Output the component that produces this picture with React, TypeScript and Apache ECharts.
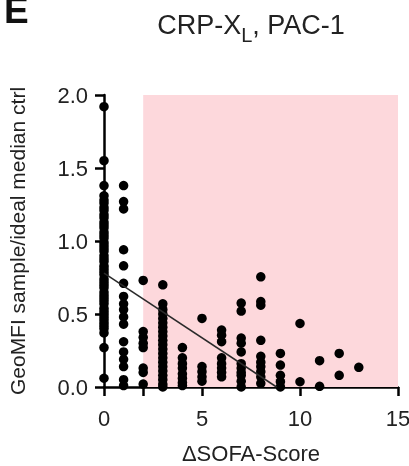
import React, { useEffect, useRef } from "react";
import * as echarts from "echarts";

// ΔSOFA-Score columns (x) and GeoMFI ratio values (y)
const col0 = [1.92, 1.55, 1.38, 1.31, 1.28, 1.26, 1.23, 1.21, 1.18, 1.16, 1.13, 1.11, 1.09, 1.06, 1.04, 1.02, 0.99, 0.97, 0.95, 0.93, 0.9, 0.88, 0.86, 0.83, 0.81, 0.79, 0.77, 0.74, 0.72, 0.7, 0.68, 0.65, 0.63, 0.61, 0.59, 0.57, 0.54, 0.52, 0.5, 0.48, 0.46, 0.44, 0.42, 0.4, 0.37, 0.27, 0.06];
const col1 = [1.38, 1.27, 1.22, 0.94, 0.83, 0.71, 0.62, 0.57, 0.53, 0.48, 0.43, 0.31, 0.24, 0.19, 0.14, 0.05, 0.01];
const col2 = [0.73, 0.38, 0.34, 0.3, 0.27, 0.13, 0.1, 0.02];
const col3 = [0.7, 0.57, 0.53, 0.5, 0.47, 0.44, 0.41, 0.38, 0.35, 0.32, 0.29, 0.26, 0.23, 0.2, 0.17, 0.14, 0.11, 0.08, 0.05, 0.02, 0.0];
const col4 = [0.27, 0.2, 0.16, 0.13, 0.09, 0.06, 0.03, 0.01];
const col5 = [0.47, 0.14, 0.105, 0.07, 0.04];
const col6 = [0.39, 0.355, 0.31, 0.2, 0.16, 0.13, 0.1, 0.07];
const col7 = [0.575, 0.52, 0.335, 0.3, 0.24, 0.16, 0.13, 0.1, 0.08, 0.04, 0.0];
const col8 = [0.755, 0.585, 0.56, 0.32, 0.21, 0.17, 0.14, 0.105, 0.07, 0.025];
const col9 = [0.23, 0.15, 0.08, 0.036, 0.0];
const col10 = [0.435, 0.036];
const col11 = [0.18, 0.005];
const col12 = [0.23, 0.08];
const col13 = [0.135];
const columns: number[][] = [col0, col1, col2, col3, col4, col5, col6, col7, col8, col9, col10, col11, col12, col13];

// linear regression
const regIntercept = 0.78;
const regSlope = -0.0886;

const xTicks = [0, 2, 5, 10, 15];
const xLabels = [0, 5, 10, 15];
const shadedFrom = 2;
const shadedTo = 15;

const FONT = "Liberation Sans, Arial, sans-serif";

export default function App() {
  const ref = useRef<HTMLDivElement>(null);
  useEffect(() => {
    if (!ref.current) return;
    const chart = echarts.init(ref.current, undefined, { renderer: "svg" });
    const points: number[][] = [];
    columns.forEach((ys, x) => ys.forEach((y) => points.push([x, y])));
    const xEnd = -regIntercept / regSlope;
    chart.setOption({
      animation: false,
      textStyle: { fontFamily: FONT },
      grid: { left: 104, right: 11, top: 95, bottom: 79, outerBoundsMode: "none", containLabel: false },
      graphic: [
        {
          type: "text",
          left: 4,
          top: -8,
          style: { text: "E", fontSize: 37, fontWeight: "bold", fontFamily: FONT, fill: "#111" },
        },
        {
          type: "text",
          x: 251,
          y: 11,
          style: {
            text: "{a|CRP-X}{s|L}{a|, PAC-1}",
            align: "center",
            verticalAlign: "top",
            rich: {
              a: { fontSize: 27, lineHeight: 34, verticalAlign: "top", fontFamily: FONT, fill: "#222" },
              s: { fontSize: 20, lineHeight: 16, verticalAlign: "bottom", fontFamily: FONT, fill: "#222" },
            },
          },
        },
      ],
      xAxis: {
        type: "value",
        min: 0,
        max: 15,
        interval: 5,
        name: "ΔSOFA-Score",
        nameLocation: "middle",
        nameGap: 55,
        nameTextStyle: { fontSize: 22, color: "#222", fontFamily: FONT },
        axisLine: { show: true, onZero: false, lineStyle: { color: "#000", width: 2.5 } },
        axisTick: { show: true, length: 9, customValues: xTicks, lineStyle: { color: "#000", width: 2.5 } },
        axisLabel: { customValues: xLabels, fontSize: 22, margin: 20, color: "#222", fontFamily: FONT },
        splitLine: { show: false },
      },
      yAxis: {
        type: "value",
        min: 0,
        max: 2,
        interval: 0.5,
        name: "GeoMFI sample/ideal median ctrl",
        nameLocation: "middle",
        nameGap: 76,
        nameTextStyle: { fontSize: 21, color: "#222", fontFamily: FONT },
        axisLine: { show: true, onZero: false, lineStyle: { color: "#000", width: 2.5 } },
        axisTick: { show: true, length: 9, lineStyle: { color: "#000", width: 2.5 } },
        axisLabel: { fontSize: 22, margin: 16, color: "#222", fontFamily: FONT, formatter: (v: number) => v.toFixed(1) },
        splitLine: { show: false },
      },
      series: [
        {
          type: "scatter",
          data: points,
          symbolSize: 9.5,
          itemStyle: { color: "#000", opacity: 1 },
          z: 3,
          markArea: {
            silent: true,
            itemStyle: { color: "#fdd8dc" },
            data: [[{ xAxis: shadedFrom, yAxis: 0 }, { xAxis: shadedTo, yAxis: 2 }]],
          },
        },
        {
          type: "line",
          data: [[0, regIntercept], [xEnd, 0]],
          symbol: "none",
          lineStyle: { color: "#2a2a2a", width: 1.5 },
          z: 4,
        },
      ],
    });
    return () => chart.dispose();
  }, []);
  return <div ref={ref} style={{ position: "fixed", left: 0, top: 0, width: 409, height: 466 }} />;
}
